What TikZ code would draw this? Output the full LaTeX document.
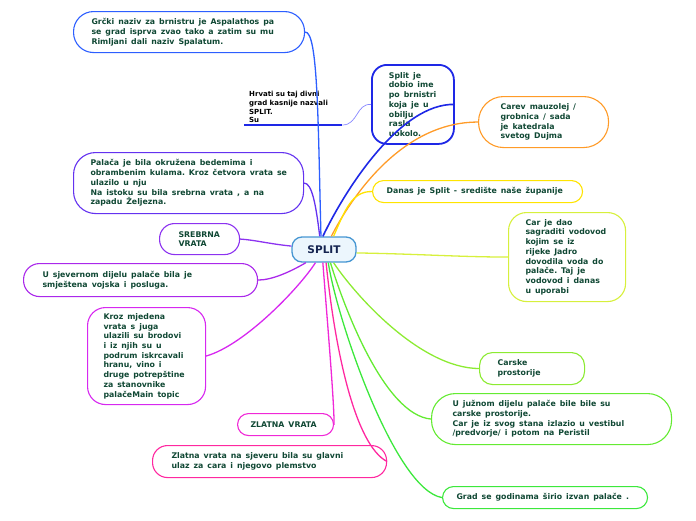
\documentclass[tikz,border=0pt]{standalone}
\usepackage{fontspec}
\setmainfont{DejaVu Sans}
\usepackage{xcolor}
\definecolor{TopicText}{RGB}{16,72,52}
\definecolor{CentralText}{RGB}{20,35,80}
\definecolor{CentralLine}{RGB}{70,150,210}
\definecolor{CentralFill}{RGB}{236,246,253}
\definecolor{BlueA}{RGB}{45,95,255}
\definecolor{BlueB}{RGB}{30,40,230}
\definecolor{BlueThin}{RGB}{135,135,255}
\definecolor{Orange}{RGB}{255,155,40}
\definecolor{Yellow}{RGB}{255,228,0}
\definecolor{YGreen}{RGB}{215,240,60}
\definecolor{GreenA}{RGB}{140,235,50}
\definecolor{GreenB}{RGB}{100,235,50}
\definecolor{GreenC}{RGB}{60,232,60}
\definecolor{VioletA}{RGB}{100,50,240}
\definecolor{VioletB}{RGB}{140,50,240}
\definecolor{VioletC}{RGB}{170,40,235}
\definecolor{MagentaA}{RGB}{215,40,240}
\definecolor{MagentaB}{RGB}{240,40,215}
\definecolor{Pink}{RGB}{255,40,160}
\tikzset{
  topic/.style={rectangle,rounded corners=#1,draw,fill=white,line width=1.1pt,
                font=\bfseries\fontsize{7.8}{9.7}\selectfont,
                text=TopicText,align=left,anchor=north west,inner xsep=4pt,inner ysep=0pt},
  topic/.default=12pt,
  boxdim/.style n args={3}{minimum width=#1,minimum height=#2,text width=#1-8pt,
                execute at begin node={\leftskip=\dimexpr#3pt-4pt\relax
                  \spaceskip=4pt plus 1pt minus .5pt\relax}},
  central/.style={rectangle,rounded corners=10pt,draw=CentralLine,fill=CentralFill,
                line width=1.3pt,minimum width=64pt,minimum height=25pt,inner sep=0pt,
                font=\bfseries\fontsize{10.5}{12}\selectfont,text=CentralText},
  hnote/.style={anchor=south west,font=\bfseries\fontsize{7}{8.7}\selectfont,
                text=black,align=left,text width=88pt,inner xsep=5pt,inner ysep=2pt},
  link/.style={line width=1.3pt,draw=#1},
}
\begin{document}
\begin{tikzpicture}[x=1pt,y=-1pt]
  \useasboundingbox (0,0) rectangle (696,520);
  \node[central] (split) at (324,249.5) {SPLIT};
  % top branches
  \node[topic=20pt,draw=BlueA,boxdim={231}{41}{18}] (greek) at (73,11)
    {Grčki naziv za brnistru je Aspalathos pa\\se grad isprva zvao tako a zatim su mu\\Rimljani dali naziv Spalatum.};
  \node[topic=15pt,draw=BlueB,line width=1.8pt,boxdim={82}{79}{17}] (dobio) at (371,64)
    {Split je\\dobio ime\\po brnistri\\koja je u\\obilju\\rasla\\uokolo.};
  \node[hnote] (hrvati) at (244,125) {Hrvati su taj divni\\grad kasnije nazvali\\SPLIT.\\Su};
  \node[topic=25pt,draw=Orange,boxdim={130}{51}{22}] (carev) at (478,96)
    {Carev mauzolej /\\grobnica / sada\\je katedrala\\svetog Dujma};
  \node[topic=11pt,draw=Yellow,boxdim={210}{22}{14}] (danas) at (372,180)
    {Danas je Split - središte naše županije};
  \node[topic=18pt,draw=YGreen,boxdim={117}{89}{17}] (cardao) at (508,212)
    {Car je dao\\sagraditi vodovod\\kojim se iz\\rijeke Jadro\\dovodila voda do\\palače. Taj je\\vodovod i danas\\u uporabi};
  % right, lower branches
  \node[topic=13pt,draw=GreenA,boxdim={105}{32}{18}] (carske) at (479,352)
    {Carske\\prostorije};
  \node[topic=24pt,draw=GreenB,boxdim={240}{51}{21}] (juznom) at (431,393)
    {U južnom dijelu palače bile bile su\\carske prostorije.\\Car je iz svog stana izlazio u vestibul\\/predvorje/ i potom na Peristil};
  \node[topic=11pt,draw=GreenC,boxdim={205}{22}{14}] (grad) at (442,486)
    {Grad se godinama širio izvan palače .};
  % left branches
  \node[topic=22pt,draw=VioletA,boxdim={230}{61}{17}] (palaca) at (73,152)
    {Palača je bila okružena bedemima i\\obrambenim kulama. Kroz četvora vrata se\\ulazilo u nju\\Na istoku su bila srebrna vrata , a na\\zapadu Željezna.};
  \node[topic=15pt,draw=VioletB,boxdim={80}{31}{19}] (srebrna) at (159,223)
    {SREBRNA\\VRATA};
  \node[topic=16pt,draw=VioletC,boxdim={234}{33}{19}] (sjever) at (23,263)
    {U sjevernom dijelu palače bila je\\smještena vojska i posluga.};
  \node[topic=18pt,draw=MagentaA,boxdim={118}{97}{16}] (kroz) at (87,307)
    {Kroz mjedena\\vrata s juga\\ulazili su brodovi\\i iz njih su u\\podrum iskrcavali\\hranu, vino i\\druge potrepštine\\za stanovnike\\palačeMain topic};
  \node[topic=11pt,draw=MagentaB,boxdim={96}{22}{13}] (zlatna) at (237,413)
    {ZLATNA VRATA};
  \node[topic=15pt,draw=Pink,boxdim={234}{32}{19}] (zvrata) at (152,445)
    {Zlatna vrata na sjeveru bila su glavni\\ulaz za cara i njegovo plemstvo};

  \draw[line width=2pt,draw=BlueB] (hrvati.south west) -- (hrvati.south east);
  \draw[link=BlueThin,line width=0.7pt] (hrvati.south east) .. controls (358,125) and (356,103.5) .. (dobio.west);

  \draw[link=BlueA] (split.103) .. controls (318,120) and (318,31) .. (greek.east);
  \draw[link=VioletA] (split.108) .. controls (316,205) and (312,183) .. (palaca.east);
  \draw[link=BlueB,line width=1.6pt] (split.95) .. controls (345,190) and (400,103) .. (dobio.east);
  \draw[link=Orange] (split.61) .. controls (350,200) and (400,122) .. (carev.west);
  \draw[link=Yellow] (split.54) .. controls (345,210) and (352,191) .. (danas.west);
  \draw[link=YGreen] (split.-6) .. controls (420,254) and (460,257) .. (cardao.west);
  \draw[link=GreenA] (split.306) .. controls (355,295) and (420,368) .. (carske.west);
  \draw[link=GreenB] (split.296) .. controls (345,310) and (385,415) .. (juznom.west);
  \draw[link=GreenC] (split.288) .. controls (337,320) and (395,490) .. (grad.west);
  \draw[link=Pink] (split.279) .. controls (335,350) and (355,445) .. (zvrata.east);
  \draw[link=MagentaB] (split.265) .. controls (328,330) and (334,400) .. (zlatna.east);
  \draw[link=MagentaA] (split.237) .. controls (300,287) and (245,345) .. (kroz.east);
  \draw[link=VioletC] (split.216) .. controls (290,272) and (272,280) .. (sjever.east);
  \draw[link=VioletB] (split.174) .. controls (270,244) and (255,240) .. (srebrna.east);
\end{tikzpicture}
\end{document}
